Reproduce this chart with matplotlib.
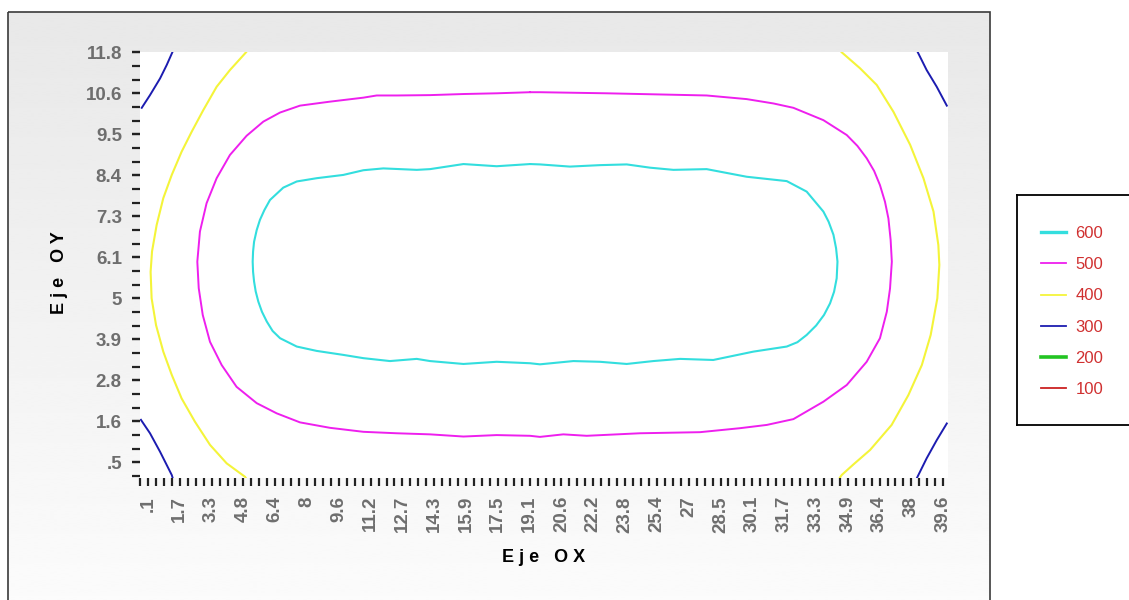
import matplotlib
matplotlib.use("Agg")
import matplotlib.pyplot as plt
import numpy as np
from matplotlib.lines import Line2D
from matplotlib.patches import Rectangle

plt.rcParams['font.family'] = ['Liberation Sans', 'DejaVu Sans']

# axis tick labels as printed on the chart
x_labels = [".1", "1.7", "3.3", "4.8", "6.4", "8", "9.6", "11.2", "12.7", "14.3",
            "15.9", "17.5", "19.1", "20.6", "22.2", "23.8", "25.4", "27", "28.5",
            "30.1", "31.7", "33.3", "34.9", "36.4", "38", "39.6"]
y_labels = ["11.8", "10.6", "9.5", "8.4", "7.3", "6.1", "5", "3.9", "2.8", "1.6", ".5"]

levels = [600, 500, 400, 300, 200, 100]
level_colors = ["#33dede", "#ee1fee", "#f4f43a", "#1c1cb0", "#22c422", "#cc2222"]
legend_widths = [2.4, 1.3, 1.3, 1.3, 2.6, 1.3]

# isolines (x in m, y in m)
c600_x = [19.08, 17.42, 15.77, 14.11, 13.45, 11.79, 10.80, 9.80, 8.48, 7.49, 6.82, 6.16,
          5.88, 5.66, 5.50, 5.37, 5.32, 5.30, 5.32, 5.37, 5.45, 5.58, 5.76, 6.00, 6.29,
          6.66, 7.49, 8.48, 9.80, 10.80, 12.12, 13.45,
          14.11, 15.77, 17.42, 19.08, 19.57, 21.23, 22.55, 23.88, 25.20, 26.53, 28.18,
          30.17, 31.83, 32.36, 32.82, 33.29, 33.68, 33.98, 34.18, 34.31, 34.35, 34.28,
          34.15, 33.91, 33.65, 32.82, 31.83, 29.84,
          27.85, 26.20, 25.04, 23.88, 22.55, 21.06, 19.57, 19.08]
c600_y = [8.72, 8.66, 8.72, 8.58, 8.56, 8.60, 8.55, 8.42, 8.33, 8.24, 8.07, 7.73,
          7.45, 7.18, 6.90, 6.58, 6.31, 6.03, 5.75, 5.48, 5.21, 4.93, 4.65, 4.38, 4.12,
          3.92, 3.69, 3.57, 3.46, 3.37, 3.29, 3.35,
          3.29, 3.21, 3.27, 3.23, 3.20, 3.29, 3.27, 3.21, 3.29, 3.35, 3.32,
          3.55, 3.69, 3.81, 4.01, 4.27, 4.56, 4.88, 5.20, 5.57, 6.03, 6.40,
          6.77, 7.13, 7.41, 7.96, 8.25, 8.37,
          8.58, 8.56, 8.62, 8.71, 8.69, 8.65, 8.71, 8.72]

c500_x = [19.08, 17.42, 15.77, 14.11, 12.45, 11.46, 10.80, 9.14, 7.65, 6.66, 5.83, 5.00,
          4.17, 3.51, 3.01, 2.68, 2.55, 2.62, 2.82, 3.18, 3.76, 4.50, 5.50, 6.49, 7.65,
          9.14, 10.80, 12.45, 14.11, 15.77, 17.42, 19.08, 19.57, 20.73, 21.89, 24.54,
          27.52, 29.51, 30.84, 32.16, 33.65, 34.81, 35.80, 36.46, 36.80, 36.96, 37.05,
          36.99, 36.88, 36.71, 36.46, 36.17, 35.80, 35.34, 34.81, 33.65, 32.16, 31.17,
          29.84, 27.85, 25.37, 22.89, 19.57, 19.08]
c500_y = [10.70, 10.67, 10.65, 10.62, 10.61, 10.61, 10.55, 10.44, 10.33, 10.14, 9.89, 9.50,
          8.97, 8.33, 7.64, 6.86, 6.03, 5.30, 4.56, 3.82, 3.18, 2.58, 2.13, 1.85, 1.60,
          1.45, 1.34, 1.30, 1.27, 1.21, 1.25, 1.23, 1.20, 1.27, 1.23, 1.30,
          1.33, 1.44, 1.53, 1.69, 2.17, 2.63, 3.27, 3.92, 4.65, 5.29, 6.03,
          6.63, 7.22, 7.68, 8.14, 8.53, 8.88, 9.22, 9.52, 9.93, 10.27, 10.39,
          10.51, 10.61, 10.64, 10.67, 10.70, 10.70]

c400_left_x = [4.97, 4.17, 3.51, 2.85, 2.27, 1.77, 1.28, 0.86, 0.53, 0.30, 0.23, 0.28,
               0.50, 0.86, 1.28, 1.77, 2.43, 3.18, 4.01, 4.92, 4.98]
c400_left_y = [11.80, 11.31, 10.85, 10.21, 9.61, 9.06, 8.42, 7.78, 7.04, 6.31, 5.75, 5.02,
               4.28, 3.55, 2.91, 2.26, 1.62, 0.98, 0.47, 0.10, 0.05]
c400_right_x = [34.56, 35.47, 36.30, 37.13, 37.96, 38.62, 39.12, 39.36, 39.41, 39.31,
                38.98, 38.54, 37.87, 37.04, 35.97, 35.14, 34.56, 34.45]
c400_right_y = [11.80, 11.36, 10.90, 10.16, 9.25, 8.33, 7.41, 6.49, 5.94, 5.02,
                4.01, 3.18, 2.35, 1.53, 0.84, 0.44, 0.15, 0.06]

c300_tl_x = [-0.21, 0.20, 0.70, 1.03, 1.31]
c300_tl_y = [10.27, 10.62, 11.08, 11.45, 11.80]
c300_bl_x = [-0.25, 0.20, 0.70, 1.28, 1.33]
c300_bl_y = [1.67, 1.30, 0.79, 0.15, 0.06]
c300_tr_x = [38.34, 38.78, 39.28, 39.78]
c300_tr_y = [11.80, 11.31, 10.85, 10.33]
c300_br_x = [39.78, 39.28, 38.78, 38.37, 38.29]
c300_br_y = [1.57, 1.11, 0.61, 0.15, 0.06]

fig = plt.figure(figsize=(11.29, 6.0), dpi=100)
fig.patch.set_facecolor('white')

# grey panel behind the plot
bg = fig.add_axes([0, 0, 1, 1], zorder=-10)
bg.set_xlim(0, 1129)
bg.set_ylim(600, 0)
bg.axis('off')
grad = np.linspace(0.91, 0.985, 200).reshape(-1, 1)
bg.imshow(grad, cmap='gray', vmin=0, vmax=1, extent=(8, 990, 600, 12),
          aspect='auto', interpolation='bilinear')
bg.add_patch(Rectangle((8, 12), 982, 600, fill=False, ec='#3a3a3a', lw=1.2))

ax = fig.add_axes([140 / 1129, 1 - 478 / 600, 808 / 1129, (478 - 52.3) / 600])
ax.set_facecolor('white')
for s in ax.spines.values():
    s.set_visible(False)

ax.plot(c600_x, c600_y, color=level_colors[0], lw=1.5, solid_joinstyle='round',
        solid_capstyle='round')
ax.plot(c500_x, c500_y, color=level_colors[1], lw=1.4, solid_joinstyle='round',
        solid_capstyle='round')
ax.plot(c400_left_x, c400_left_y, color=level_colors[2], lw=1.5)
ax.plot(c400_right_x, c400_right_y, color=level_colors[2], lw=1.5)
for px, py in [(c300_tl_x, c300_tl_y), (c300_bl_x, c300_bl_y),
               (c300_tr_x, c300_tr_y), (c300_br_x, c300_br_y)]:
    ax.plot(px, py, color=level_colors[3], lw=1.4)

ax.set_xlim(-0.297, 39.84)
ax.set_ylim(0.067, 11.8)

ax.set_xticks(np.linspace(0.1, 39.6, len(x_labels)))
ax.set_xticklabels(x_labels, rotation=90)
ax.set_xticks(np.arange(-0.295, 39.9, 0.395), minor=True)
ax.set_yticks(np.linspace(11.8, 0.5, len(y_labels)))
ax.set_yticklabels(y_labels)
ax.set_yticks(np.arange(0.123, 11.85, 0.37667), minor=True)
ax.tick_params(which='both', direction='out', length=6, width=1.6, color='#222222',
               labelsize=13.5, labelcolor='#6e6e6e', pad=7)
for lbl in ax.get_xticklabels() + ax.get_yticklabels():
    lbl.set_fontweight('bold')

fig.text(544 / 1129, 1 - 557 / 600, "E j e   O X", ha='center', va='center',
         fontsize=13, fontweight='bold', color='black')
fig.text(60 / 1129, 1 - 273 / 600, "E j e   O Y", ha='center', va='center',
         rotation=90, fontsize=13, fontweight='bold', color='black')

# legend box, cut by the right edge like in the original
lax = fig.add_axes([1017 / 1129, 1 - 425 / 600, 0.12, 230 / 600])
lax.set_facecolor('white')
lax.set_xticks([])
lax.set_yticks([])
for s in lax.spines.values():
    s.set_color('black')
    s.set_linewidth(1.3)
handles = [Line2D([], [], color=c, lw=w) for c, w in zip(level_colors, legend_widths)]
lax.legend(handles, [str(v) for v in levels], loc='upper left',
           bbox_to_anchor=(0.18, 0.865), frameon=False, fontsize=12,
           labelcolor='#d03030', handlelength=1.5, handletextpad=0.55,
           labelspacing=0.97, borderpad=0, borderaxespad=0)

fig.savefig('out.png', dpi=100)
